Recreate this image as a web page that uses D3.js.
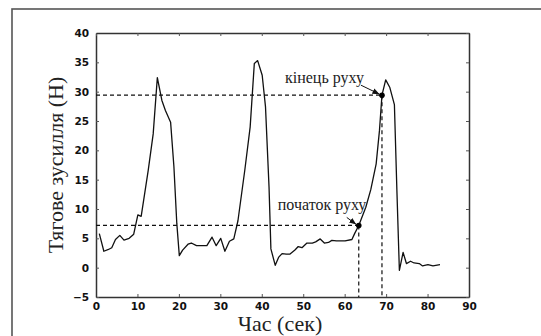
<!DOCTYPE html>
<html>
<head>
<meta charset="utf-8">
<script src="https://cdn.jsdelivr.net/npm/d3@7"></script>
<style>
  body { margin: 0; background: #fff; }
  .tick text { font-family: "DejaVu Sans", sans-serif; font-weight: bold; font-size: 10.5px; fill: #111; }
</style>
</head>
<body>
<div id="chart"></div>
<script>
// час, с
var time = [0.8, 1.9, 3, 3.8, 4.7, 5.75, 6.75, 8, 9.1, 10.1, 10.9, 12.6, 13.8, 14.8, 15.9, 16.75, 18, 18.8, 19.5,
  20.1, 20.9, 22.2, 23, 24.25, 26.75, 28, 29, 30.1, 31.1, 32.2, 33.25, 34.25, 35.9, 37.2, 38.2, 39, 40.1, 40.9,
  41.75, 42.2, 43.25, 44.1, 44.9, 45.9, 46.75, 48, 48.8, 49.7, 50.9, 52.2, 53, 54.1, 55.1, 56.1, 56.9, 58, 60.1,
  61.75, 62.4, 63.4, 65.1, 66.3, 67.6, 68.4, 69, 69.9, 70.9, 72, 72.6, 73.2, 74.1, 74.9, 75.9, 76.75, 78, 78.8,
  80.1, 81.3, 83];
// тягове зусилля, Н
var force = [5.8, 2.8, 3.1, 3.4, 4.8, 5.5, 4.7, 5, 5.7, 9.0, 8.75, 16.6, 22.8, 32.4, 28.5, 26.8, 24.8, 17.2, 7.5,
  2.05, 3, 4, 4.2, 3.75, 3.75, 5.2, 3.75, 5, 2.8, 4.5, 4.9, 8, 16.6, 24, 34.8, 35.3, 32.8, 27.4,
  13.75, 3.2, 0.4, 1.8, 2.4, 2.3, 2.3, 3, 3.6, 3.4, 4.2, 4.2, 4.4, 4.9, 4.2, 4.3, 4.65, 4.55, 4.55,
  4.8, 5.8, 7.2, 10.3, 13.3, 17.7, 23.4, 29.4, 32.0, 30.7, 27.8, 13.2, -0.45, 2.6, 0.7, 1.1, 0.8, 0.7, 0.3,
  0.5, 0.3, 0.5];

var xTicks = [0, 10, 20, 30, 40, 50, 60, 70, 80, 90];
var yTicks = [-5, 0, 5, 10, 15, 20, 25, 30, 35, 40];

// позначені точки
var markNames = ["початок руху", "кінець руху"];
var markTime = [63.4, 69];
var markForce = [7.2, 29.4];

var serif = "'Liberation Serif', 'Times New Roman', Times, 'DejaVu Serif', serif";
var w = 541, h = 336;
var margin = {top: 33, right: 72, bottom: 39, left: 96};

var svg = d3.select("#chart").append("svg")
    .attr("width", w)
    .attr("height", h);

// outer frame
svg.append("rect")
    .attr("x", 12).attr("y", 9)
    .attr("width", 540).attr("height", 340)
    .attr("fill", "none")
    .attr("stroke", "#555")
    .attr("stroke-width", 1.6);

var xScale = d3.scaleLinear().domain([0, 90]).range([margin.left, w - margin.right]);
var yScale = d3.scaleLinear().domain([-5, 40]).range([h - margin.bottom, margin.top]);

var defs = svg.append("defs");
defs.append("marker")
    .attr("id", "arrow")
    .attr("viewBox", "0 0 10 10")
    .attr("refX", 10).attr("refY", 5)
    .attr("markerWidth", 7).attr("markerHeight", 7)
    .attr("orient", "auto")
  .append("path")
    .attr("d", "M0,1 L10,5 L0,9 z")
    .attr("fill", "#111");

// axes with inward ticks
svg.append("g")
    .attr("transform", "translate(0," + yScale(-5) + ")")
    .call(d3.axisBottom(xScale).tickValues(xTicks).tickSizeInner(-3).tickSizeOuter(0).tickPadding(6));
svg.append("g")
    .attr("transform", "translate(" + xScale(0) + ",0)")
    .call(d3.axisLeft(yScale).tickValues(yTicks).tickSizeInner(-3).tickSizeOuter(0).tickPadding(7));
svg.append("g")
    .attr("transform", "translate(0," + yScale(40) + ")")
    .call(d3.axisTop(xScale).tickValues(xTicks).tickSizeInner(-3).tickSizeOuter(0).tickFormat(""));
svg.append("g")
    .attr("transform", "translate(" + xScale(90) + ",0)")
    .call(d3.axisRight(yScale).tickValues(yTicks).tickSizeInner(-3).tickSizeOuter(0).tickFormat(""));

svg.selectAll(".domain").attr("stroke", "#333").attr("stroke-width", 1.5);
svg.selectAll(".tick line").attr("stroke", "#555");

// dashed guides
var guides = svg.append("g")
    .attr("fill", "none")
    .attr("stroke", "#111")
    .attr("stroke-width", 1.2)
    .attr("stroke-dasharray", "4,3");
markTime.forEach(function(t, i) {
    guides.append("line")
        .attr("x1", xScale(0)).attr("x2", xScale(t))
        .attr("y1", yScale(markForce[i])).attr("y2", yScale(markForce[i]));
    guides.append("line")
        .attr("x1", xScale(t)).attr("x2", xScale(t))
        .attr("y1", yScale(markForce[i])).attr("y2", yScale(-5));
});

// curve
var line = d3.line()
    .x(function(d, i) { return xScale(time[i]); })
    .y(function(d) { return yScale(d); });

svg.append("path")
    .datum(force)
    .attr("fill", "none")
    .attr("stroke", "#111")
    .attr("stroke-width", 1.3)
    .attr("stroke-linejoin", "round")
    .attr("d", line);

// marked points
svg.selectAll("circle.mark")
    .data(markTime)
    .enter()
    .append("circle")
    .attr("class", "mark")
    .attr("cx", function(d) { return xScale(d); })
    .attr("cy", function(d, i) { return yScale(markForce[i]); })
    .attr("r", 2.8)
    .attr("fill", "#000");

// annotations: text offset and arrow start relative to the point
var labelDx = [-81, -97];
var labelDy = [-15, -12];
var arrowDx = [-12, -21];
var arrowDy = [-8, -10];
markNames.forEach(function(name, i) {
    var px = xScale(markTime[i]), py = yScale(markForce[i]);
    svg.append("text")
        .attr("x", px + labelDx[i])
        .attr("y", py + labelDy[i])
        .attr("font-family", serif)
        .attr("font-size", "16px")
        .attr("fill", "#222")
        .text(name);
    svg.append("line")
        .attr("x1", px + arrowDx[i]).attr("y1", py + arrowDy[i])
        .attr("x2", px - 2.5).attr("y2", py - 1)
        .attr("stroke", "#111")
        .attr("stroke-width", 1)
        .attr("marker-end", "url(#arrow)");
});

// axis titles
svg.append("text")
    .attr("x", 280)
    .attr("y", 331)
    .attr("text-anchor", "middle")
    .attr("font-family", serif)
    .attr("font-size", "22px")
    .attr("fill", "#222")
    .text("Час (сек)");

svg.append("text")
    .attr("transform", "translate(63,165) rotate(-90)")
    .attr("text-anchor", "middle")
    .attr("font-family", serif)
    .attr("font-size", "22px")
    .attr("fill", "#222")
    .text("Тягове зусилля (Н)");
</script>
</body>
</html>
